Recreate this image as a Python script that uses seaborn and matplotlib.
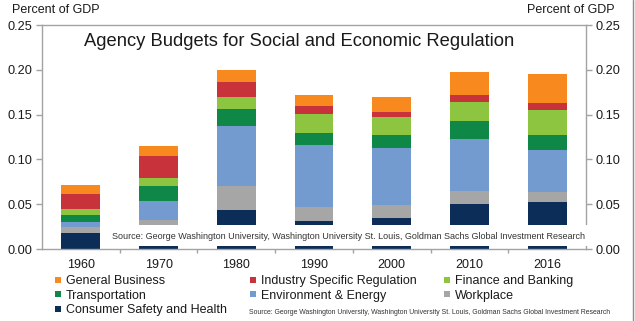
import numpy as np
import pandas as pd
import seaborn as sns
import matplotlib
matplotlib.use("Agg")
import matplotlib.pyplot as plt
from matplotlib.patches import Rectangle
from matplotlib.lines import Line2D
from matplotlib.transforms import blended_transform_factory

# Agency budgets, percent of GDP, by regulatory area (stacked bottom -> top)
years = ["1960", "1970", "1980", "1990", "2000", "2010", "2016"]
consumer_safety = [0.018, 0.020, 0.043, 0.031, 0.035, 0.050, 0.052]
workplace = [0.006, 0.012, 0.027, 0.016, 0.014, 0.015, 0.012]
environment = [0.006, 0.022, 0.067, 0.069, 0.064, 0.058, 0.046]
transportation = [0.0075, 0.016, 0.019, 0.013, 0.014, 0.020, 0.017]
finance = [0.0075, 0.009, 0.014, 0.022, 0.020, 0.021, 0.028]
industry = [0.016, 0.025, 0.016, 0.009, 0.006, 0.008, 0.008]
general_business = [0.010, 0.011, 0.014, 0.012, 0.017, 0.025, 0.032]

categories = ["Consumer Safety and Health", "Workplace", "Environment & Energy",
              "Transportation", "Finance and Banking",
              "Industry Specific Regulation", "General Business"]
series = [consumer_safety, workplace, environment, transportation, finance,
          industry, general_business]
colors = {
    "Consumer Safety and Health": "#0B2D57",
    "Workplace": "#A6A6A6",
    "Environment & Energy": "#739BD0",
    "Transportation": "#0E8747",
    "Finance and Banking": "#8DC541",
    "Industry Specific Regulation": "#C8323A",
    "General Business": "#F7891F",
}
source = ("Source: George Washington University, Washington University St. Louis, "
          "Goldman Sachs Global Investment Research")

rows = []
for cat, vals in zip(categories, series):
    for yr, v in zip(years, vals):
        rows.append({"year": yr, "category": cat, "value": v})
df = pd.DataFrame(rows)
df["top"] = df.groupby("year")["value"].cumsum()

sns.set_theme(style="white")
plt.rcParams["font.family"] = ["Liberation Sans", "DejaVu Sans"]
text_color = "#1a1a1a"
spine_color = "#A3A3A3"

fig = plt.figure(figsize=(6.35, 3.21), dpi=100)
ax = fig.add_axes([42 / 635, 1 - 249 / 321, 544 / 635, 224 / 321])

# stacked bars: draw cumulative tops from the highest layer down
for cat in reversed(categories):
    sub = df[df["category"] == cat]
    sns.barplot(data=sub, x="year", y="top", color=colors[cat], saturation=1,
                width=0.5, errorbar=None, linewidth=0, ax=ax, order=years)

ax.set_ylim(0, 0.25)
ax.set_xlim(-0.5, len(years) - 0.5)
ticks = np.arange(0, 0.2501, 0.05)
ax.set_yticks(ticks)
ax.set_yticklabels([f"{t:.2f}" for t in ticks])
ax.set_xlabel("")
ax.set_ylabel("")
ax.set_xticks(np.arange(0.5, len(years) - 1, 1.0), minor=True)
for s in ["left", "top", "bottom"]:
    ax.spines[s].set_color(spine_color)
    ax.spines[s].set_linewidth(1)
ax.spines["right"].set_visible(False)
ax.tick_params(axis="y", which="major", direction="out", length=4, width=1,
               color=spine_color, labelsize=9.2, labelcolor=text_color, pad=3, left=True)
ax.tick_params(axis="x", which="major", length=0, labelsize=9,
               labelcolor=text_color, pad=7)
ax.tick_params(axis="x", which="minor", direction="out", length=3, width=1,
               color=spine_color, bottom=True)

ax2 = ax.twinx()
ax2.set_ylim(0, 0.25)
ax2.set_yticks(ticks)
ax2.set_yticklabels([f"{t:.2f}" for t in ticks])
for s in ["left", "top", "bottom"]:
    ax2.spines[s].set_visible(False)
ax2.spines["right"].set_color(spine_color)
ax2.spines["right"].set_linewidth(1)
ax2.tick_params(axis="y", direction="out", length=4, width=1, color=spine_color,
                labelsize=9.2, labelcolor=text_color, pad=3, right=True)
ax2.grid(False)
ax.grid(False)


def fit_width(txt, width_px):
    """Shrink a text's font size so it spans the given width in pixels."""
    renderer = fig.canvas.get_renderer()
    w = txt.get_window_extent(renderer).width
    txt.set_fontsize(txt.get_fontsize() * width_px / w)


# source note box laid over the lower part of the plot
tr = blended_transform_factory(ax2.transAxes, ax2.transData)
ax2.add_patch(Rectangle((0.116, 0.0028), 0.895, 0.024, transform=tr,
                        facecolor="white", edgecolor="none", zorder=10,
                        clip_on=False))
inner_src = ax2.text(0.1284, 0.0145, source, transform=tr, ha="left", va="center",
                     fontsize=7.4, color="#333333", zorder=11)
fit_width(inner_src, 474)

# title and axis captions
fig.text(299 / 635, 1 - 42 / 321, "Agency Budgets for Social and Economic Regulation",
         ha="center", va="center", fontsize=13.2, color=text_color)
fig.text(12 / 635, 1 - 10 / 321, "Percent of GDP", ha="left", va="center",
         fontsize=9, color=text_color)
fig.text(615 / 635, 1 - 10 / 321, "Percent of GDP", ha="right", va="center",
         fontsize=9, color=text_color)

# legend in three columns
legend_cols = [
    (58, ["General Business", "Transportation", "Consumer Safety and Health"]),
    (253, ["Industry Specific Regulation", "Environment & Energy"]),
    (447, ["Finance and Banking", "Workplace"]),
]
for x_px, names in legend_cols:
    handles = [Line2D([], [], marker="s", linestyle="none", markersize=4.5,
                      markerfacecolor=colors[n], markeredgewidth=0) for n in names]
    fig.legend(handles, names, loc="upper left",
               bbox_to_anchor=((x_px - 4) / 635, 1 - 275 / 321),
               frameon=False, fontsize=9, handlelength=0.6, handletextpad=0.35,
               labelspacing=0.22, borderpad=0, borderaxespad=0,
               labelcolor=text_color)

bottom_src = fig.text(249 / 635, 1 - 312 / 321, source, ha="left", va="center",
                      fontsize=5.6, color="#333333")
fit_width(bottom_src, 359)

# right-hand frame rule
fig.add_artist(Line2D([633 / 635, 633 / 635], [0, 1], transform=fig.transFigure,
                      color="#8c8c8c", linewidth=1))

fig.savefig("out.png", dpi=100)
